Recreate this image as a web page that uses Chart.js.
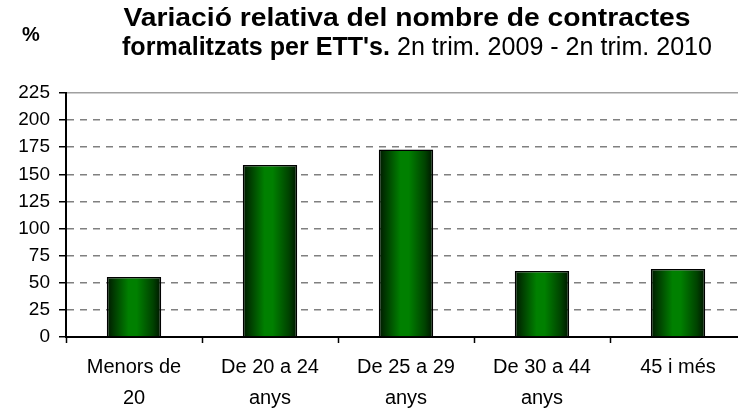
<!DOCTYPE html>
<html>
<head>
<meta charset="utf-8">
<script src="https://cdn.jsdelivr.net/npm/chart.js@4.4.1/dist/chart.umd.min.js"></script>
<style>
	html, body { margin: 0; padding: 0; background: #fff; overflow: hidden; }
	#wrap { width: 746px; height: 410px; }
</style>
</head>
<body>
<div id="wrap"><canvas id="chart" width="746" height="410"></canvas></div>
<script>
// valors llegits del gràfic
const categories = [['Menors de', '20'], ['De 20 a 24', 'anys'], ['De 25 a 29', 'anys'], ['De 30 a 44', 'anys'], ['45 i més']];
const variacio = [55.4, 158.6, 172.9, 60.9, 62.7];
const yTicks = [0, 25, 50, 75, 100, 125, 150, 175, 200, 225];

const titleLine1 = 'Variació relativa del nombre de contractes';
const titleLine2Bold = "formalitzats per ETT's.";
const titleLine2 = ' 2n trim. 2009 - 2n trim. 2010';
const unitLabel = '%';

const FONT = "'Liberation Sans', Arial, sans-serif";

function barGradient(c) {
	const chart = c.chart;
	const x = chart.scales.x;
	if (!x || !chart.chartArea) return '#008000';
	const cx = x.getPixelForValue(c.dataIndex);
	const w = (x.width / categories.length) * 0.4;
	const g = chart.ctx.createLinearGradient(cx - w / 2, 0, cx + w / 2, 0);
	g.addColorStop(0, '#001800');
	g.addColorStop(0.15, '#004000');
	g.addColorStop(0.4, '#008000');
	g.addColorStop(0.55, '#008000');
	g.addColorStop(0.85, '#004200');
	g.addColorStop(1, '#001400');
	return g;
}

const titlePlugin = {
	id: 'titolMixt',
	afterDraw(chart) {
		const ctx = chart.ctx;
		ctx.save();
		ctx.fillStyle = '#000';
		ctx.textBaseline = 'middle';

		// primera línia
		ctx.font = 'bold 25px ' + FONT;
		let w = ctx.measureText(titleLine1).width;
		let sx = 567 / w;
		ctx.save();
		ctx.translate(407, 19);
		ctx.scale(sx, 1);
		ctx.textAlign = 'center';
		ctx.fillText(titleLine1, 0, 0);
		ctx.restore();

		// segona línia
		ctx.font = 'bold 25px ' + FONT;
		const wb = ctx.measureText(titleLine2Bold).width;
		ctx.font = '25px ' + FONT;
		const wn = ctx.measureText(titleLine2).width;
		sx = 590 / (wb + wn);
		ctx.save();
		ctx.translate(122, 48);
		ctx.scale(sx, 1);
		ctx.textAlign = 'left';
		ctx.font = 'bold 25px ' + FONT;
		ctx.fillText(titleLine2Bold, 0, 0);
		ctx.font = '25px ' + FONT;
		ctx.fillText(titleLine2, wb, 0);
		ctx.restore();

		// unitat
		ctx.font = 'bold 20px ' + FONT;
		ctx.textAlign = 'center';
		ctx.fillText(unitLabel, 31, 35);
		ctx.restore();
	}
};

const ctx = document.getElementById('chart').getContext('2d');
new Chart(ctx, {
	type: 'bar',
	data: {
		labels: categories,
		datasets: [{
			label: '%',
			data: variacio,
			backgroundColor: barGradient,
			borderColor: '#000',
			borderWidth: 1.5,
			borderSkipped: 'bottom',
			barPercentage: 1,
			categoryPercentage: 0.4
		}]
	},
	options: {
		responsive: false,
		devicePixelRatio: 1,
		animation: false,
		layout: { padding: { top: 93, left: 0, right: 0, bottom: 0 } },
		plugins: {
			legend: { display: false },
			title: { display: false },
			tooltip: { enabled: false }
		},
		scales: {
			x: {
				afterFit: s => { s.height = 73; },
				grid: {
					offset: true,
					drawOnChartArea: false,
					drawTicks: true,
					tickLength: 6,
					tickColor: '#000',
					tickWidth: 1.5
				},
				border: { color: '#000', width: 2 },
				ticks: {
					color: '#000',
					padding: 9,
					maxRotation: 0,
					autoSkip: false,
					font: { family: FONT, size: 20, lineHeight: 1.55 }
				}
			},
			y: {
				min: 0,
				max: 225,
				afterFit: s => { s.width = 66; },
				afterBuildTicks: s => { s.ticks = yTicks.map(v => ({ value: v })); },
				grid: {
					color: c => c.tick && c.tick.value === 225 ? '#a0a0a0' : '#808080',
					lineWidth: 1.5,
					tickLength: 7,
					tickColor: '#000',
					tickWidth: 1.5,
					tickBorderDash: []
				},
				border: {
					color: '#000',
					width: 2,
					dash: c => c.tick && c.tick.value === 225 ? [] : [7, 6]
				},
				ticks: {
					color: '#000',
					padding: 9,
					font: { family: FONT, size: 19 }
				}
			}
		}
	},
	plugins: [titlePlugin]
});
</script>
</body>
</html>
